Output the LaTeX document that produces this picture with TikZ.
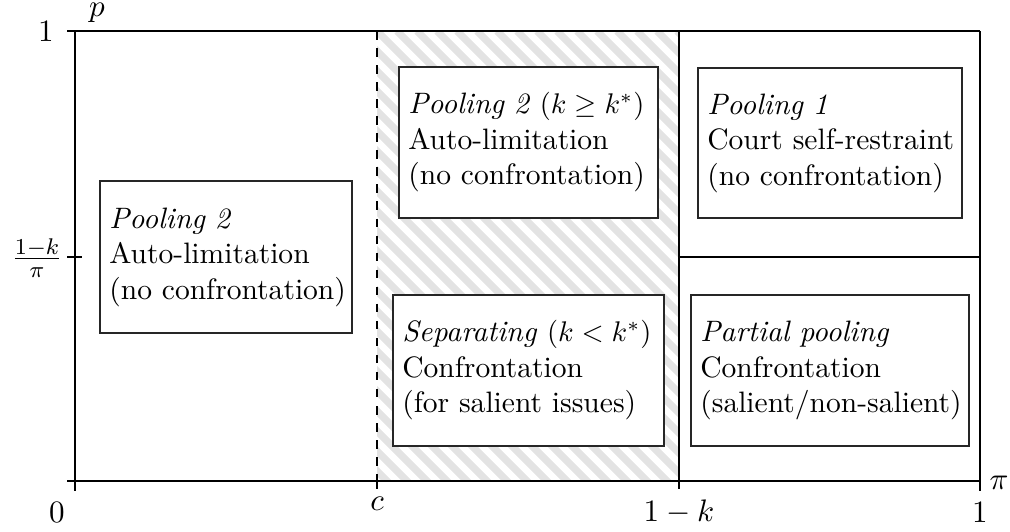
\documentclass[tikz,border=0pt]{standalone}
\begin{document}
\begin{tikzpicture}[x=0.352pt,y=-0.352pt,
  font=\fontsize{10.4pt}{12.5pt}\selectfont,
  mybox/.style 2 args={draw=black!85, fill=white, align=left, inner xsep=3.3pt, inner ysep=0pt,
     text width=#1*0.352pt-6.6pt, minimum height=#2*0.352pt},
  axisline/.style={black, line width=0.4pt},
  lbl/.style={inner sep=0pt, font=\fontsize{10.8pt}{13pt}\selectfont}]
\useasboundingbox (0,0) rectangle (1010,531);
% hatching
\begin{scope}
  \clip (377,31) rectangle (679,481);
  \foreach \i in {-24,...,16} {
    \draw[gray!22, line width=2.5pt] (377+\i*20,31) -- ++(460,460);
  }
\end{scope}
% frame lines
\draw[axisline] (67,31) -- (980,31);
\draw[axisline] (980,31) -- (980,491);
\draw[axisline] (679,31) -- (679,481);
\draw[axisline] (679,257) -- (980,257);
\draw[axisline, dashed] (377,31) -- (377,481);
% axes
\draw[axisline] (67,481) -- (980,481);
\draw[axisline] (75,31) -- (75,491);
% ticks
\draw[axisline] (67,257) -- (82,257);
\draw[axisline] (377,474) -- (377,489);
\draw[axisline] (679,474) -- (679,489);
% tick labels
\node[lbl] (one-y) at (46,31) {$1$};
\node[lbl] (frac) at (37,258) {$\frac{1-k}{\pi}$};
\node[lbl] (zero) at (57,512) {$0$};
\node[lbl] (c) at (377,504) {$c$};
\node[lbl] (onek) at (679,512) {$1-k$};
\node[lbl] (one-x) at (980,512) {$1$};
\node[lbl] (p) at (97,13) {$p$};
\node[lbl] (pi) at (999,483) {$\pi$};
% boxes
\node[mybox={252}{152}] (b1) at (226,257) {\mbox{\textit{Pooling 2}}\\\mbox{Auto-limitation}\\\mbox{(no confrontation)}};
\node[mybox={259}{151}] (b2) at (528.5,142.5) {\mbox{\textit{Pooling 2} $(k \geq k^{*})$}\\\mbox{Auto-limitation}\\\mbox{(no confrontation)}};
\node[mybox={264}{150}] (b3) at (830,143) {\mbox{\textit{Pooling 1}}\\\mbox{Court self-restraint}\\\mbox{(no confrontation)}};
\node[mybox={271}{151}] (b4) at (528.5,370.5) {\mbox{\textit{Separating} $(k < k^{*})$}\\\mbox{Confrontation}\\\mbox{(for salient issues)}};
\node[mybox={278}{151}] (b5) at (830,370.5) {\mbox{\textit{Partial pooling}}\\\mbox{Confrontation}\\\mbox{(salient/non-salient)}};
\end{tikzpicture}
\end{document}
